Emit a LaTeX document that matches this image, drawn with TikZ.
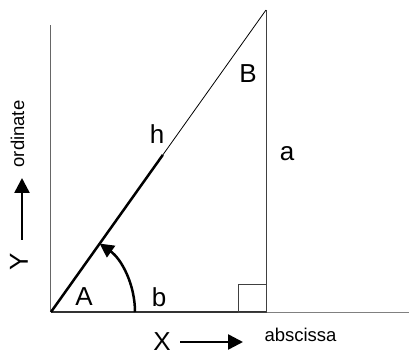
\documentclass[tikz,border=0pt]{standalone}
\usepackage{fontspec}
\setmainfont{Liberation Sans}
\usetikzlibrary{arrows.meta,calc,positioning}

\tikzset{
  letter/.style={font=\fontsize{26}{30}\selectfont, inner sep=0pt},
  axisname/.style={font=\fontsize{18.5}{22}\selectfont, inner sep=0pt},
  thinline/.style={line width=1pt, black!60},
  dirarrow/.style={line width=2.5pt, -{Triangle[length=15pt,width=15pt]}},
}

\begin{document}
\begin{tikzpicture}[x=1pt,y=1pt]
      \useasboundingbox (-51,-44) rectangle (358,312);
      \coordinate (O) at (0,0);
      \coordinate (top) at (0,287);
      \coordinate (C) at (215,302);
      \coordinate (F) at (215,0);
      \coordinate (end) at (358,0);
      \draw[thinline] (O) -- (top);
      \draw[thinline, black!50] (F) -- (end);
      \draw[line width=1.5pt, black!80] (O) -- (F);
      \draw[thinline, black!75] (F) -- (C);
      \draw[thinline, black!75] (187,0) rectangle (F |- 0,28);
      \draw[line width=0.8pt] (O) -- (C);
      \draw[line width=2.5pt] (O) -- ($(O)!0.52!(C)$) coordinate (hend);
      \draw[line width=2.5pt, -{Triangle[length=14pt,width=14pt]}]
        (84,0) arc[start angle=0, end angle=54.56, radius=84];
      \node[letter] (A) at (33,15) {A};
      \node[letter] (b) at (108,15) {b};
      \node[letter] (h) at (106,178) {h};
      \node[letter] (B) at (197,238) {B};
      \node[letter] (a) at (236,158) {a};
      \node[letter] (X) at (111,-30) {X};
      \coordinate (xtail) at (129,-30);
      \coordinate (xhead) at (192,-30);
      \draw[dirarrow] (xtail) -- (xhead);
      \node[axisname] (abscissa) at (249.5,-23) {abscissa};
      \node[letter, rotate=90] (Y) at (-32,50) {Y};
      \coordinate (ytail) at (-29,72);
      \coordinate (yhead) at (-29,134);
      \draw[dirarrow] (ytail) -- (yhead);
      \node[axisname, rotate=90] (ordinate) at (-33.5,178) {ordinate};
    \end{tikzpicture}
\end{document}
